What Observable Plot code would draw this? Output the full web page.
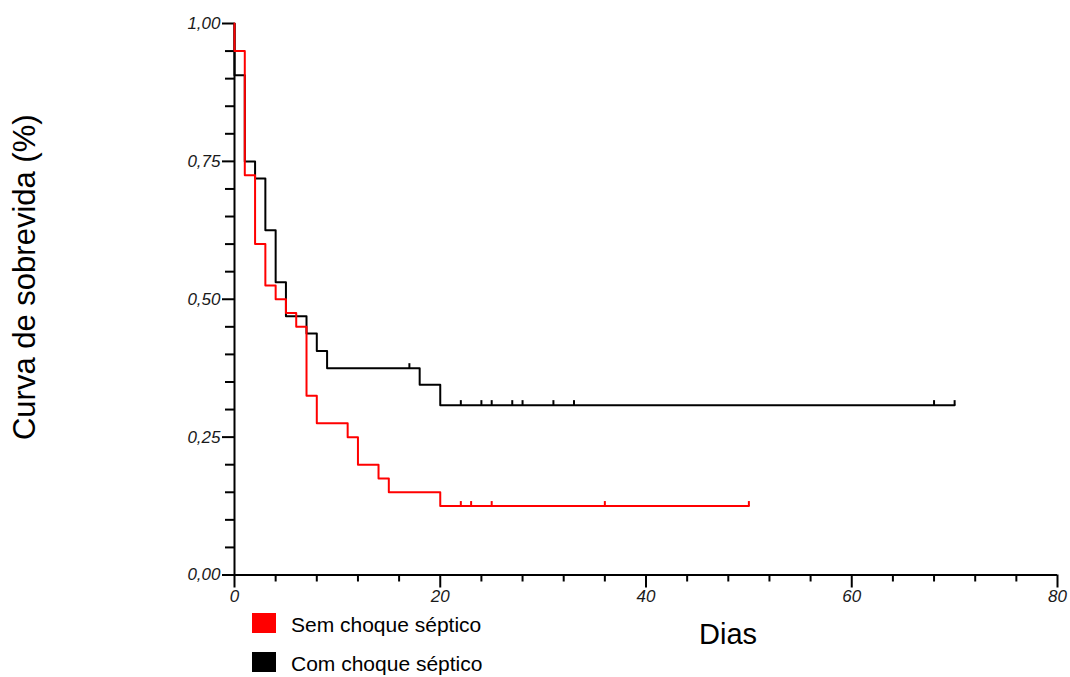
<!DOCTYPE html>
<html>
<head>
<meta charset="utf-8">
<script src="https://cdn.jsdelivr.net/npm/d3@7"></script>
<script src="https://cdn.jsdelivr.net/npm/@observablehq/plot@0.6"></script>
<style>
  html, body { margin: 0; padding: 0; background: #fff; }
  #wrap { position: relative; width: 1070px; height: 677px; font-family: "Liberation Sans", Arial, sans-serif; }
  #wrap svg { position: absolute; left: 0; top: 0; }
  g[aria-label="x-axis tick label"] text, g[aria-label="y-axis tick label"] text { font-style: italic; }
  .legend { position: absolute; left: 252px; font-size: 21px; color: #000; }
  .legend .row { position: absolute; left: 0; white-space: nowrap; height: 20px; }
  .legend .sw { position: absolute; left: 0; top: 0; width: 24px; height: 20px; }
  .legend .lab { position: absolute; left: 39px; top: 0px; line-height: 24px; }
</style>
</head>
<body>
<div id="wrap"></div>
<script>
// Series: Kaplan-Meier survival steps (time in days, survival after event)
const semTimes = [0, 0, 1, 2, 3, 4, 5, 6, 7, 8, 11, 12, 14, 15, 20, 50];
const semSurv  = [1, 0.95, 0.725, 0.60, 0.525, 0.50, 0.475, 0.45, 0.325, 0.275, 0.25, 0.20, 0.175, 0.15, 0.125, 0.125];
const comTimes = [0, 0, 1, 2, 3, 4, 5, 7, 8, 9, 18, 20, 70];
const comSurv  = [1, 0.906, 0.75, 0.719, 0.625, 0.531, 0.469, 0.438, 0.406, 0.375, 0.345, 0.308, 0.308];

// Censored observations
const semCensorTimes = [22, 23, 25, 36, 50];
const semCensorSurv  = [0.125, 0.125, 0.125, 0.125, 0.125];
const comCensorTimes = [17, 22, 24, 25, 27, 28, 31, 33, 68, 70];
const comCensorSurv  = [0.375, 0.308, 0.308, 0.308, 0.308, 0.308, 0.308, 0.308, 0.308, 0.308];

const seriesNames = ["Sem choque séptico", "Com choque séptico"];
const seriesColors = ["#ff0000", "#000000"];

// Axes
const xMajor = [0, 20, 40, 60, 80];
const xTickLabels = ["0", "20", "40", "60", "80"];
const xMinor = [4, 8, 12, 16, 24, 28, 32, 36, 44, 48, 52, 56, 64, 68, 72, 76];
const yMajor = [0, 0.25, 0.5, 0.75, 1];
const yTickLabels = ["0,00", "0,25", "0,50", "0,75", "1,00"];
const yMinor = [0.05, 0.10, 0.15, 0.20, 0.30, 0.35, 0.40, 0.45, 0.55, 0.60, 0.65, 0.70, 0.80, 0.85, 0.90, 0.95];
const xLabel = "Dias";
const yLabel = "Curva de sobrevida (%)";

const sem = semTimes.map((t, i) => ({t, s: semSurv[i]}));
const com = comTimes.map((t, i) => ({t, s: comSurv[i]}));
const semC = semCensorTimes.map((t, i) => ({t, s: semCensorSurv[i]}));
const comC = comCensorTimes.map((t, i) => ({t, s: comCensorSurv[i]}));

const censorMark = { draw(context) { context.moveTo(0, 0); context.lineTo(0, -5); } };

const chart = Plot.plot({
  width: 1070,
  height: 677,
  marginLeft: 234,
  marginRight: 13,
  marginTop: 23,
  marginBottom: 102.5,
  x: {domain: [0, 80]},
  y: {domain: [0, 1]},
  style: {fontFamily: "'Liberation Sans', Arial, sans-serif", color: "#000", background: "transparent", overflow: "visible"},
  marks: [
    Plot.axisX({ticks: xMinor, tickSize: 7, strokeWidth: 2, tickFormat: () => "", label: null}),
    Plot.axisX({ticks: xMajor, tickSize: 13, tickPadding: 2, strokeWidth: 2, fontSize: 17, fill: "#1a1a1a",
      tickFormat: d => xTickLabels[xMajor.indexOf(d)], label: null}),
    Plot.axisY({ticks: yMinor, tickSize: 9, strokeWidth: 2, tickFormat: () => "", label: null}),
    Plot.axisY({ticks: yMajor, tickSize: 12, tickPadding: 2, strokeWidth: 2, fontSize: 17, fill: "#1a1a1a",
      tickFormat: d => yTickLabels[yMajor.indexOf(d)], label: null}),
    Plot.ruleY([0], {strokeWidth: 2}),
    Plot.ruleX([0], {strokeWidth: 2}),
    Plot.line(com, {x: "t", y: "s", curve: "step-after", stroke: seriesColors[1], strokeWidth: 2}),
    Plot.dot(comC, {x: "t", y: "s", symbol: censorMark, stroke: seriesColors[1], fill: "none", strokeWidth: 2}),
    Plot.line(sem, {x: "t", y: "s", curve: "step-after", stroke: seriesColors[0], strokeWidth: 2}),
    Plot.dot(semC, {x: "t", y: "s", symbol: censorMark, stroke: seriesColors[0], fill: "none", strokeWidth: 2}),
    Plot.text([xLabel], {frameAnchor: "bottom", dx: 82, dy: 60, fontSize: 29, lineAnchor: "middle", textAnchor: "middle"}),
    Plot.text([yLabel], {frameAnchor: "left", rotate: -90, dx: -209, dy: -22, fontSize: 31, lineAnchor: "middle", textAnchor: "middle"})
  ]
});

const wrap = document.getElementById("wrap");
wrap.appendChild(chart);

const legend = document.createElement("div");
legend.className = "legend";
legend.style.top = "613px";
seriesNames.forEach((name, i) => {
  const row = document.createElement("div");
  row.className = "row";
  row.style.top = (i * 39) + "px";
  const sw = document.createElement("div");
  sw.className = "sw";
  sw.style.background = seriesColors[i];
  const lab = document.createElement("span");
  lab.className = "lab";
  lab.textContent = name;
  row.appendChild(sw);
  row.appendChild(lab);
  legend.appendChild(row);
});
wrap.appendChild(legend);
</script>
</body>
</html>
